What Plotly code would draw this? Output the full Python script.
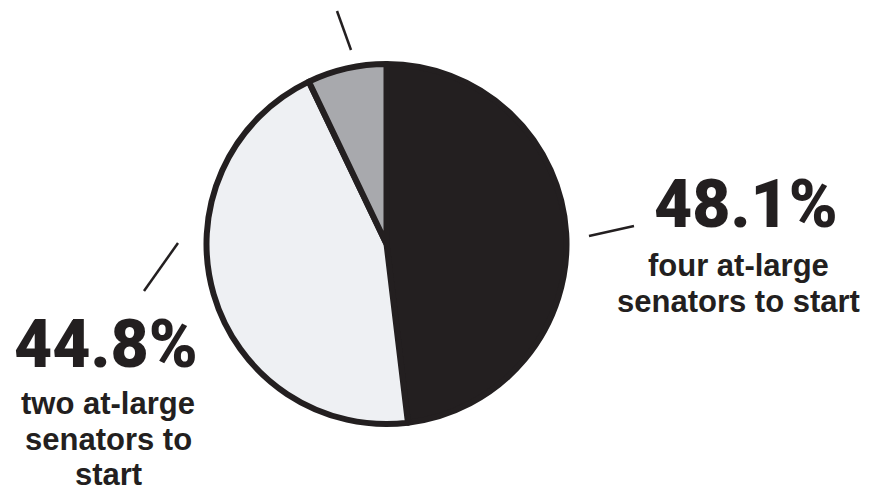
import plotly.graph_objects as go

# Share of respondents by preferred option
options = ["four at-large senators to start", "two at-large senators to start", "other"]
shares = [48.1, 44.8, 7.1]
colors = ["#231f20", "#eef0f3", "#a8a9ad"]

W, H = 882, 495
INK = "#231f20"
BIG_FONT = "Roboto"
SMALL_FONT = "Liberation Sans"


def px(x):
    return x / W


def py(y):
    return 1 - y / H


# pie centre and radius in pixels
cx, cy, r = 386.5, 244, 180

fig = go.Figure(
    go.Pie(
        labels=options,
        values=shares,
        sort=False,
        direction="clockwise",
        rotation=0,
        marker=dict(colors=colors, line=dict(color=INK, width=6)),
        textinfo="none",
        hoverinfo="label+percent",
        showlegend=False,
        domain=dict(x=[px(cx - r), px(cx + r)], y=[py(cy + r), py(cy - r)]),
    )
)

# leader lines
leaders = [
    (589, 236, 634, 226),
    (144, 291, 178, 243),
    (337, 11, 351, 50),
]
shapes = [
    dict(type="line", xref="paper", yref="paper",
         x0=px(a), y0=py(b), x1=px(c), y1=py(d),
         line=dict(color=INK, width=2.5))
    for a, b, c, d in leaders
]


def big(x, y, value):
    return dict(x=px(x), y=py(y), text=f"{value}%", showarrow=False,
                font=dict(family=BIG_FONT, size=66, color=INK, weight=900),
                xanchor="center", yanchor="middle")


def caption(x, baselines, lines, size=31):
    return [
        dict(x=px(x), y=py(b - 0.36 * size), text=t, showarrow=False,
             font=dict(family=SMALL_FONT, size=size, color=INK, weight="bold"),
             xanchor="center", yanchor="middle", borderpad=0)
        for b, t in zip(baselines, lines)
    ]


annotations = (
    [big(746, 204, shares[0]), big(106, 344, shares[1])]
    + caption(738, [277, 313], ["four at-large", "senators to start"])
    + caption(108, [415, 451, 486], ["two at-large", "senators to", "start"])
)

fig.update_layout(
    width=W, height=H,
    margin=dict(l=0, r=0, t=0, b=0),
    paper_bgcolor="white",
    plot_bgcolor="white",
    shapes=shapes,
    annotations=annotations,
)

fig.write_html("out.html")
